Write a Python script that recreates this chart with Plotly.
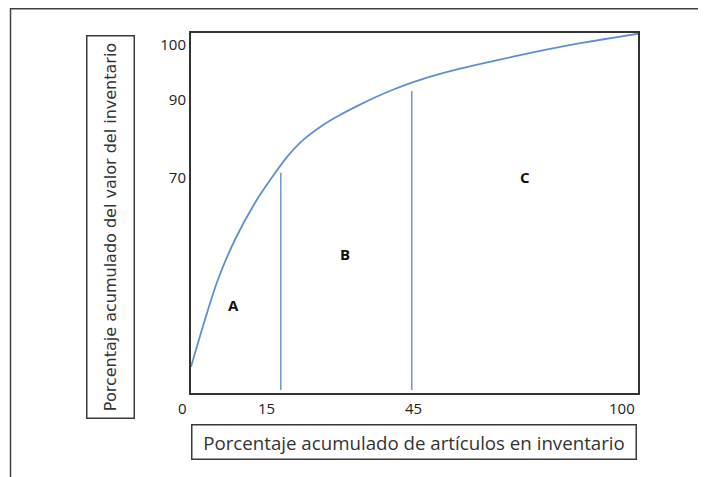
import plotly.graph_objects as go

# Curve: cumulative % of inventory value vs cumulative % of items (schematic positions)
curve_x = [0, 3.1, 6.0, 9.8, 14.3, 18.8, 21.5, 25.1, 28.9, 32.7, 37.8, 41.5, 45.3, 49.4, 52.8, 60.2, 67.6, 76.5, 87.7, 100]
curve_y = [7.3, 20.3, 31.4, 42.5, 52.8, 61.1, 65.6, 70.3, 73.9, 76.8, 80.1, 82.3, 84.3, 86.2, 87.6, 90.1, 92.2, 94.6, 97.3, 99.8]

# Class boundaries (vertical lines)
bound_x = [20.1, 49.4]
bound_top = [61.2, 83.9]
bound_bottom = [0.8, 0.8]

# Class labels
class_names = ["A", "B", "C"]
class_x = [9.6, 34.5, 74.7]
class_y = [24.4, 38.6, 60.0]

# Axis tick labels (schematic positions)
ytick_pos = [96.7, 81.4, 59.7]
ytick_text = ["100", "90", "70"]
xtick_pos = [-1.8, 17.0, 49.7, 96.4]
xtick_text = ["0", "15", "45", "100"]

x_title = "Porcentaje acumulado de artículos en inventario"
y_title = "Porcentaje acumulado del valor del inventario"

# page offset of 8px (browser body margin) is compensated here
OFF = 8
W, H = 706 - OFF, 477 - OFF
L, R, T, B = 191 - OFF, 68, 33 - OFF, 84
PW, PH = W - L - R, H - T - B

def px_x(px):  # page pixel -> paper x
    return (px - 191) / PW

def px_y(py):  # page pixel -> paper y
    return (393 - py) / PH

blue = "#5F90CE"
line_blue = "#4A7CC0"

fig = go.Figure()
fig.add_trace(go.Scatter(x=curve_x, y=curve_y, mode="lines",
                         line=dict(color=blue, width=1.8, shape="spline", smoothing=0.8),
                         hoverinfo="skip", showlegend=False))
for bx, bt, bb in zip(bound_x, bound_top, bound_bottom):
    fig.add_trace(go.Scatter(x=[bx, bx], y=[bb, bt], mode="lines",
                             line=dict(color=line_blue, width=1.2),
                             hoverinfo="skip", showlegend=False))

annotations = []
for n, cx, cy in zip(class_names, class_x, class_y):
    annotations.append(dict(x=cx, y=cy, xref="x", yref="y", text=f"<b>{n}</b>",
                            xanchor="center", yanchor="middle",
                            showarrow=False, font=dict(family="Open Sans", size=15, color="#111111")))
for tx, tt in zip(xtick_pos, xtick_text):
    annotations.append(dict(x=tx / 100.0, y=px_y(408), xref="paper", yref="paper", text=tt,
                            xanchor="center", yanchor="middle",
                            showarrow=False, font=dict(family="Open Sans", size=15, color="#222222")))
# axis title boxes
annotations.append(dict(x=px_x(414), y=px_y(441.5), xref="paper", yref="paper", text=x_title,
                        xanchor="center", yanchor="middle",
                        showarrow=False, width=443, height=33, borderpad=0,
                        bordercolor="#3a3a3a", borderwidth=1.5,
                        font=dict(family="Open Sans", size=18.7, color="#333333")))
annotations.append(dict(x=px_x(110), y=px_y(227), xref="paper", yref="paper", text=y_title,
                        xanchor="center", yanchor="middle",
                        showarrow=False, width=381, height=46, borderpad=0, textangle=-90,
                        bordercolor="#3a3a3a", borderwidth=1.5,
                        font=dict(family="DejaVu Sans", size=16, color="#333333")))

shapes = [
    dict(type="line", xref="paper", yref="paper", x0=px_x(10), x1=px_x(720), y0=px_y(8.8), y1=px_y(8.8),
         line=dict(color="#404040", width=1.5)),
    dict(type="line", xref="paper", yref="paper", x0=px_x(10.5), x1=px_x(10.5), y0=px_y(8), y1=px_y(490),
         line=dict(color="#404040", width=1.5)),
]

fig.update_layout(
    width=W, height=H,
    margin=dict(l=L, r=R, t=T, b=B),
    paper_bgcolor="white", plot_bgcolor="white",
    annotations=annotations, shapes=shapes,
    showlegend=False,
    xaxis=dict(range=[0, 100], showgrid=False, zeroline=False, showticklabels=False,
               showline=True, mirror=True, linecolor="#333333", linewidth=2, fixedrange=True),
    yaxis=dict(range=[0, 100], showgrid=False, zeroline=False,
               tickmode="array", tickvals=ytick_pos, ticktext=ytick_text, ticks="",
               tickfont=dict(family="Open Sans", size=15, color="#222222"),
               showline=True, mirror=True, linecolor="#333333", linewidth=2, fixedrange=True),
)

fig.write_html("out.html")
